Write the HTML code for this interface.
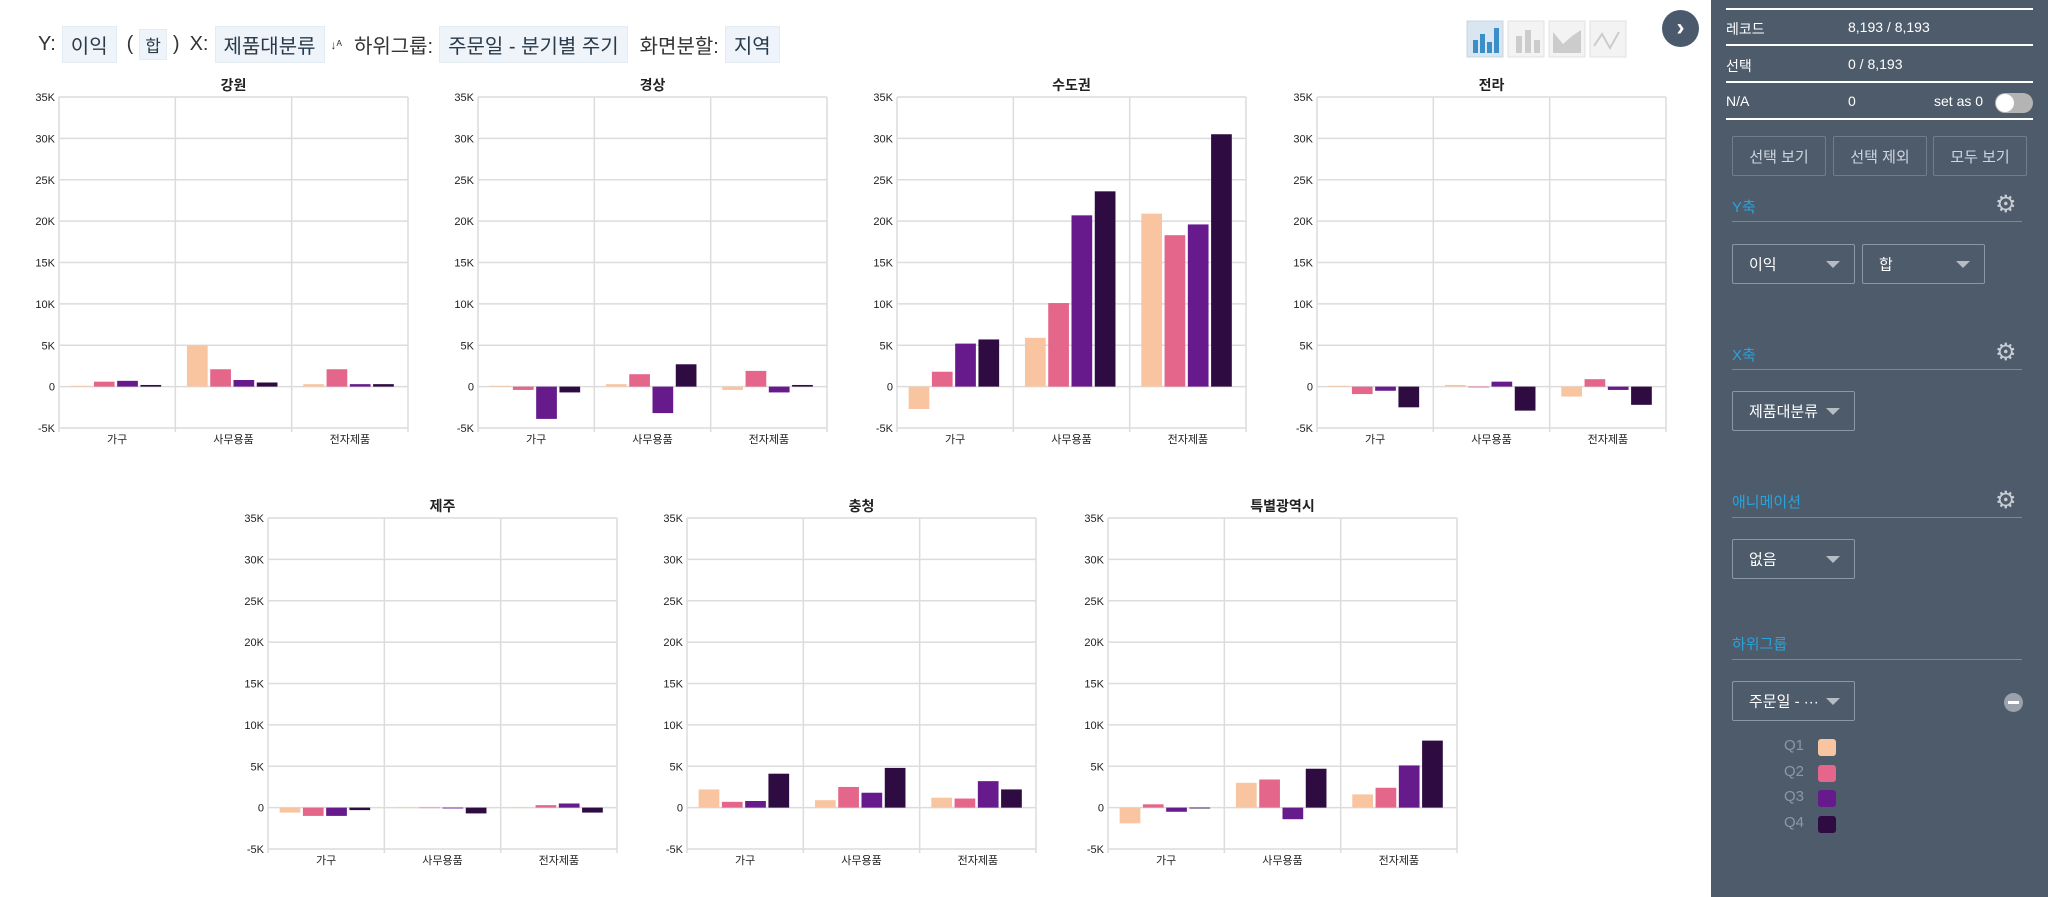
<!DOCTYPE html>
<html><head><meta charset="utf-8">
<style>
body{margin:0;width:2048px;height:897px;overflow:hidden;background:#fff;font-family:"Liberation Sans","Noto Sans CJK KR",sans-serif;position:relative}
.hdr{position:absolute;top:26px;left:38px;font-size:20px;color:#333;display:flex;align-items:center;white-space:nowrap}
.hdr .b{background:#eef4fa;border:1px solid #e3ebf3;padding:3px 8px;margin:0 6px;color:#2a3a4a}
.side{position:absolute;left:1711px;top:0;width:337px;height:897px;background:#4d5b6b;color:#fff;font-size:14px}
.side .ab{position:absolute}
.ln{position:absolute;height:2px;background:#fff}
.sl{position:absolute;height:1px;background:#7a8898;left:21px;width:290px}
.btn{position:absolute;border:1px solid #6f7d8c;color:#cfd6de;font-size:15px;display:flex;align-items:center;justify-content:center;border-radius:2px}
.dd{position:absolute;border:1px solid #8a97a5;color:#fff;font-size:15px;border-radius:2px}
.dd span{position:absolute;left:16px;top:50%;transform:translateY(-50%)}
.dd i{position:absolute;right:14px;top:50%;margin-top:-3px;border-left:7px solid transparent;border-right:7px solid transparent;border-top:7px solid #b5bcc4}
.st{position:absolute;left:21px;color:#29a3dc;font-size:15px}
.gear{position:absolute;left:284px;width:22px;height:22px;color:#c8cdd3;font-size:24px;line-height:22px}
</style></head><body>
<div class="hdr">
<span>Y:</span><span class="b">이익</span>
<span style="margin-left:4px">(</span><span class="b" style="font-size:17px;padding:2px 5px">합</span><span>)</span>
<span style="margin-left:10px">X:</span><span class="b">제품대분류</span>
<span style="font-size:12px">↓ᴬ</span>
<span style="margin-left:12px">하위그룹:</span><span class="b">주문일 - 분기별 주기</span>
<span style="margin-left:6px">화면분할:</span><span class="b">지역</span>
</div>
<svg style="position:absolute;left:1466px;top:20px" width="164" height="40">
<g><rect x="1" y="1" width="36" height="36" fill="#d9e6f1" stroke="#c7d4e0"/><rect x="7" y="20" width="5" height="13" fill="#3a8fc8"/><rect x="14" y="14" width="5" height="19" fill="#3a8fc8"/><rect x="21" y="22" width="5" height="11" fill="#3a8fc8"/><rect x="28" y="8" width="5" height="25" fill="#3a8fc8"/></g>
<g><rect x="42" y="1" width="36" height="36" fill="#f3f3f3" stroke="#e2e2e2"/><rect x="50" y="16" width="6" height="17" fill="#ccc"/><rect x="59" y="10" width="6" height="23" fill="#ccc"/><rect x="68" y="20" width="6" height="13" fill="#ccc"/></g>
<g><rect x="83" y="1" width="36" height="36" fill="#f3f3f3" stroke="#e2e2e2"/><path d="M87 12 L97 24 L106 16 L115 10 L115 33 L87 33Z" fill="#ccc"/></g>
<g><rect x="124" y="1" width="36" height="36" fill="#f3f3f3" stroke="#e2e2e2"/><path d="M128 26 L136 14 L144 28 L153 12" stroke="#ccc" fill="none" stroke-width="2"/></g>
</svg>
<div style="position:absolute;left:1662px;top:10px;width:37px;height:37px;border-radius:50%;background:#4a5a6c;color:#fff;font-size:24px;line-height:35px;text-align:center;font-weight:bold">›</div>

<svg id="charts" style="position:absolute;left:0;top:0" width="1711" height="897"></svg>

<div class="side">
<div class="ln" style="left:15px;width:307px;top:8px"></div>
<div class="ab" style="left:15px;top:19px">레코드</div><div class="ab" style="left:137px;top:19px">8,193 / 8,193</div>
<div class="ln" style="left:15px;width:307px;top:44px"></div>
<div class="ab" style="left:15px;top:56px">선택</div><div class="ab" style="left:137px;top:56px">0 / 8,193</div>
<div class="ln" style="left:15px;width:307px;top:81px"></div>
<div class="ab" style="left:15px;top:93px">N/A</div><div class="ab" style="left:137px;top:93px">0</div>
<div class="ab" style="left:223px;top:93px">set as 0</div>
<div style="position:absolute;left:284px;top:93px;width:38px;height:20px;border-radius:10px;background:#b4b4b4"><div style="position:absolute;left:1px;top:1px;width:18px;height:18px;border-radius:50%;background:#fff"></div></div>
<div class="ln" style="left:15px;width:307px;top:118px"></div>
<div class="btn" style="left:21px;top:136px;width:92px;height:38px">선택 보기</div>
<div class="btn" style="left:122px;top:136px;width:92px;height:38px">선택 제외</div>
<div class="btn" style="left:222px;top:136px;width:92px;height:38px">모두 보기</div>
<div class="st" style="top:196px">Y축</div><div class="gear" style="top:194px">⚙</div>
<div class="sl" style="top:221px"></div>
<div class="dd" style="left:21px;top:244px;width:121px;height:38px"><span>이익</span><i></i></div>
<div class="dd" style="left:151px;top:244px;width:121px;height:38px"><span>합</span><i></i></div>
<div class="st" style="top:344px">X축</div><div class="gear" style="top:342px">⚙</div>
<div class="sl" style="top:369px"></div>
<div class="dd" style="left:21px;top:391px;width:121px;height:38px"><span>제품대분류</span><i></i></div>
<div class="st" style="top:491px">애니메이션</div><div class="gear" style="top:490px">⚙</div>
<div class="sl" style="top:517px"></div>
<div class="dd" style="left:21px;top:539px;width:121px;height:38px"><span>없음</span><i></i></div>
<div class="st" style="top:633px">하위그룹</div>
<div class="sl" style="top:659px"></div>
<div class="dd" style="left:21px;top:681px;width:121px;height:38px"><span>주문일 - ···</span><i></i></div>
<div style="position:absolute;left:293px;top:693px;width:19px;height:19px;border-radius:50%;background:#9aa3ad"><div style="position:absolute;left:4px;top:8px;width:11px;height:3px;background:#fff"></div></div>
<div id="legend"></div>
</div>

<script>
const categories=["가구","사무용품","전자제품"];
const quarters=["Q1","Q2","Q3","Q4"];
const colors=["#f8c5a0","#e4668a","#661a8b","#2e0c42"];
const regions=["강원","경상","수도권","전라","제주","충청","특별광역시"];
const yTicks=[-5,0,5,10,15,20,25,30,35];
const yTickLabels=["-5K","0","5K","10K","15K","20K","25K","30K","35K"];
// values in thousands: [region][category][quarter]
const vGangwon=[[0.1,0.6,0.7,0.2],[5.0,2.1,0.8,0.5],[0.3,2.1,0.3,0.3]];
const vGyeongsang=[[0.1,-0.4,-3.9,-0.7],[0.3,1.5,-3.2,2.7],[-0.4,1.9,-0.7,0.2]];
const vSudo=[[-2.7,1.8,5.2,5.7],[5.9,10.1,20.7,23.6],[20.9,18.3,19.6,30.5]];
const vJeolla=[[0.1,-0.9,-0.5,-2.5],[0.2,-0.1,0.6,-2.9],[-1.2,0.9,-0.4,-2.2]];
const vJeju=[[-0.6,-1.0,-1.0,-0.3],[0,0,-0.1,-0.7],[0,0.3,0.5,-0.6]];
const vChungcheong=[[2.2,0.7,0.8,4.1],[0.9,2.5,1.8,4.8],[1.2,1.1,3.2,2.2]];
const vMetro=[[-1.9,0.4,-0.5,-0.1],[3.0,3.4,-1.4,4.7],[1.6,2.4,5.1,8.1]];
const regionValues=[vGangwon,vGyeongsang,vSudo,vJeolla,vJeju,vChungcheong,vMetro];

const NS="http://www.w3.org/2000/svg";
const svg=document.getElementById('charts');
function mk(t,a,p){const e=document.createElementNS(NS,t);for(const k in a)e.setAttribute(k,a[k]);(p||svg).appendChild(e);return e;}
const layout=[[59,97],[478,97],[897,97],[1317,97],[268,518],[687,518],[1108,518]];
const PW=349,PH=331,YMIN=-5,YMAX=35;
regions.forEach((r,ri)=>{
  const [L,T]=layout[ri];
  const g=mk('g',{});
  
  
  const y=v=>T+PH-(v-YMIN)/(YMAX-YMIN)*PH;
  const band=PW/categories.length;
  const xb=i=>L+i*band;
  yTicks.forEach((t,ti)=>{
    mk('line',{x1:L,x2:L+PW,y1:y(t),y2:y(t),stroke:'#dcdcdc','stroke-width':1.5},g);
    const tx=mk('text',{x:L-4,y:y(t)+4,'text-anchor':'end','font-size':11,fill:'#222'},g);
    tx.textContent=yTickLabels[ti];
    
    
  });
  for(let i=0;i<=categories.length;i++) mk('line',{x1:xb(i),x2:xb(i),y1:T,y2:T+PH+4,stroke:'#dcdcdc','stroke-width':1.5},g);
  const tt=mk('text',{x:L+PW/2,y:T-7,'text-anchor':'middle','font-size':14,'font-weight':'bold',fill:'#222'},g);
  tt.textContent=r;
  
  
  categories.forEach((c,ci)=>{
    const xl=mk('text',{x:xb(ci)+band/2,y:T+PH+15,'text-anchor':'middle','font-size':11,fill:'#222'},g);
    xl.textContent=c;
    
    
    regionValues[ri][ci].forEach((v,qi)=>{
      const x=xb(ci)+band*0.1+qi*band*0.2;
      const y0=y(0),y1=y(v);
      const b=mk('rect',{x:x,y:Math.min(y0,y1),width:band*0.178,height:Math.max(Math.abs(y1-y0),0.5),fill:colors[qi]},g);
      
      
    });
  });
});
const leg=document.getElementById('legend');
quarters.forEach((q,i)=>{
  const d=document.createElement('div');
  
  
  d.style.cssText='position:absolute;left:73px;top:'+(737+i*25.5)+'px;height:20px;';
  d.innerHTML='<span style="color:#8d98a4;font-size:15px;position:absolute;left:0;top:0">'+q+'</span><span style="position:absolute;left:34px;top:2px;width:18px;height:17px;border-radius:3px;background:'+colors[i]+'"></span>';
  leg.appendChild(d);
});
</script>
</body></html>
